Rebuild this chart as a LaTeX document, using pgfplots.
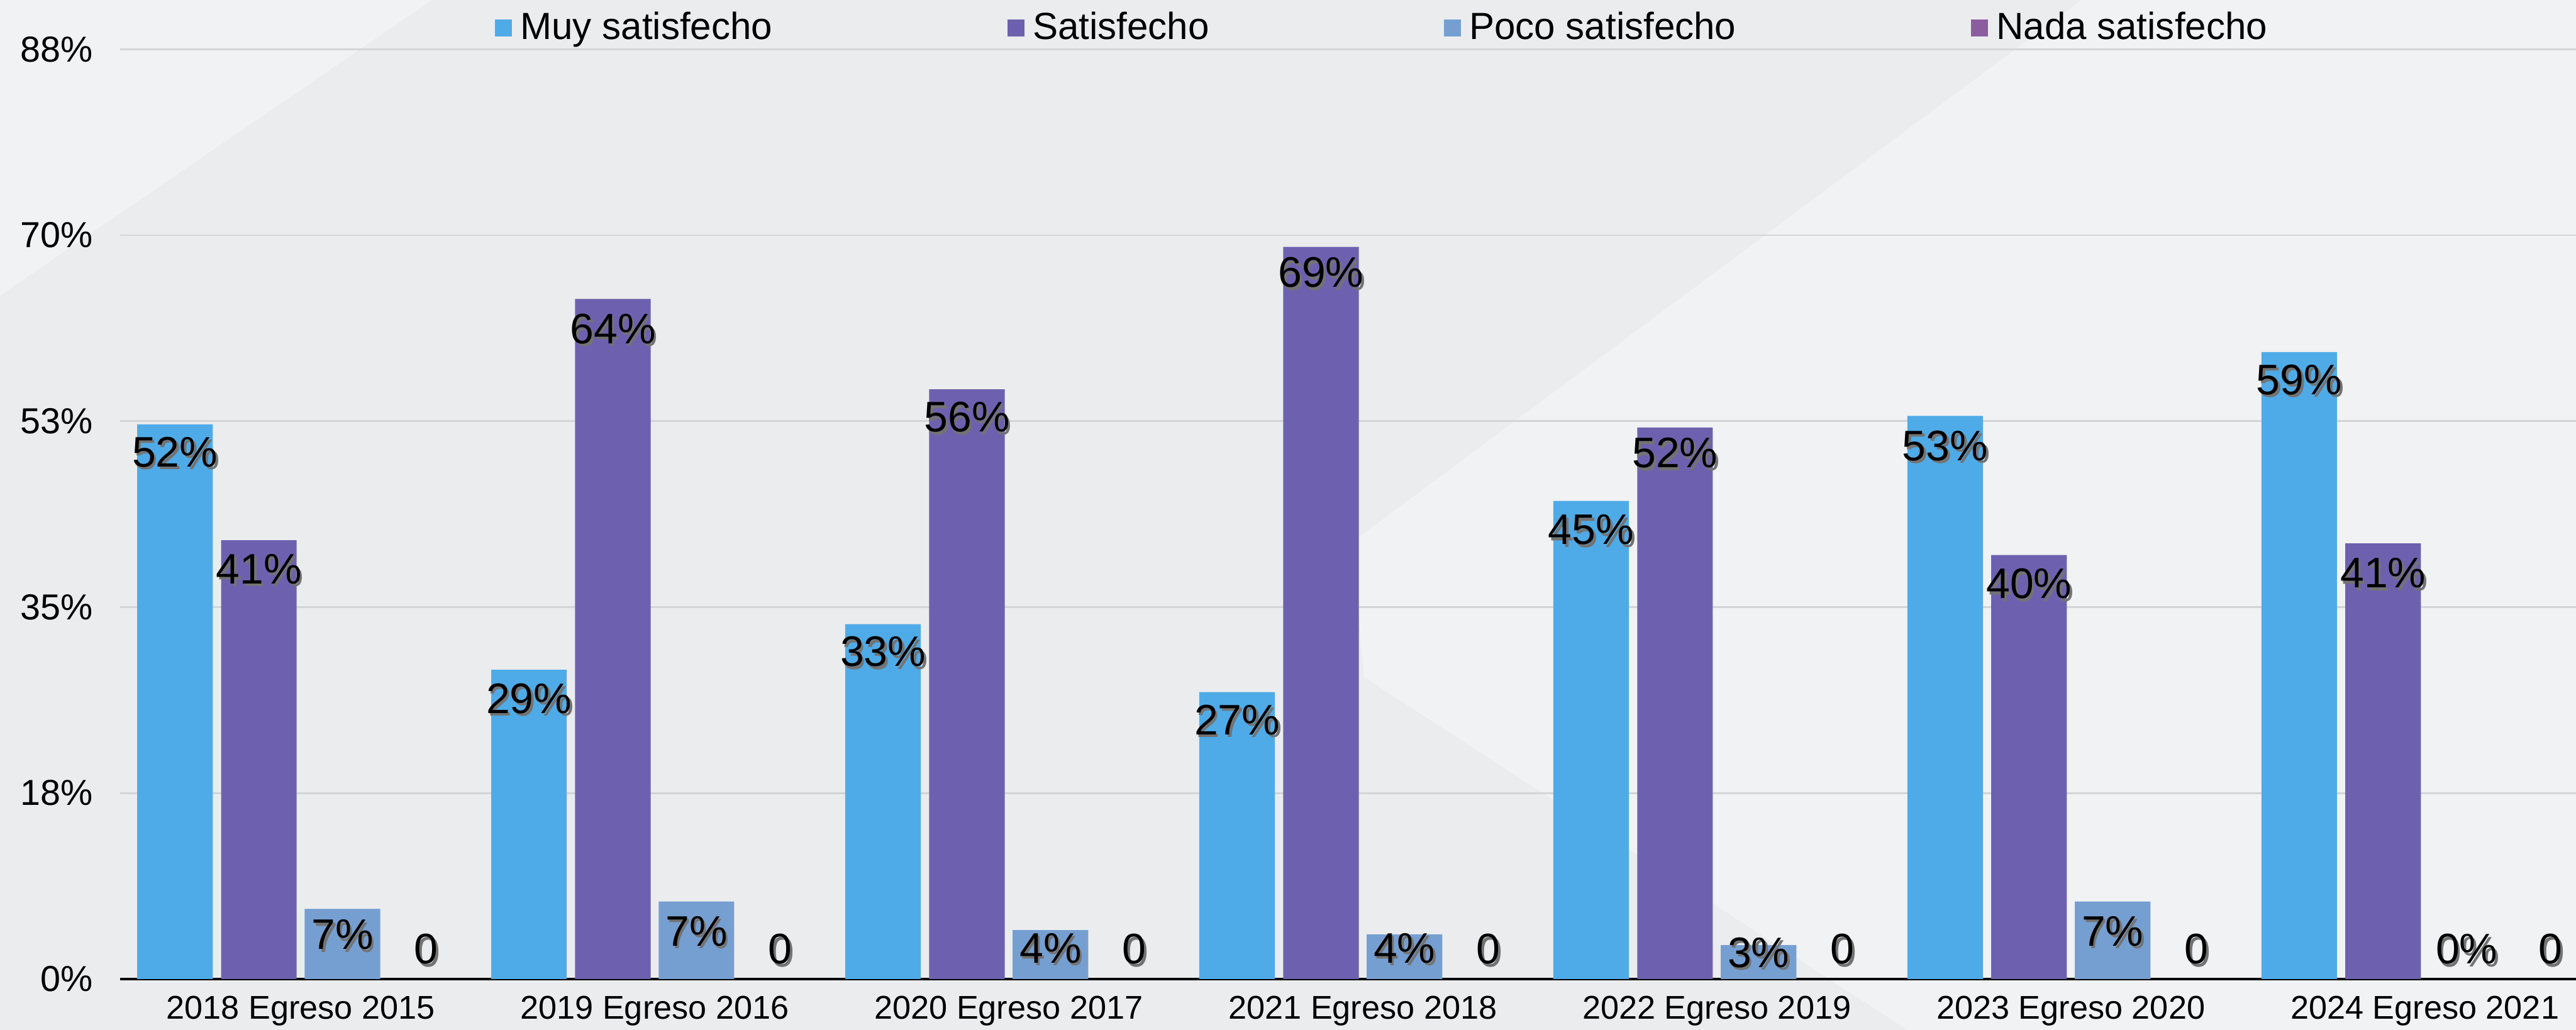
\documentclass[border=0pt]{standalone}
\usepackage{fontspec}
\setmainfont{Liberation Sans}
\usepackage{pgfplots}
\usepackage{pgfplotstable}
\pgfplotsset{compat=1.18}
\definecolor{bgdark}{HTML}{EBECEE}
\definecolor{bglight}{HTML}{F1F2F4}
\definecolor{cmuy}{HTML}{4FABE7}
\definecolor{csat}{HTML}{6D61AF}
\definecolor{cpoco}{HTML}{769FD1}
\definecolor{cnada}{HTML}{8B5D9E}
\definecolor{gridc}{HTML}{D3D4D6}

\pgfplotstableread{
x      y     v
-0.355 49.6  52
0.645  26.4  29
1.645  30.8  33
2.645  24.4  27
3.645  42.3  45
4.645  50.2  53
5.645  56.4  59
-0.118 38.6  41
0.882  61.2  64
1.882  52.9  56
2.882  66.5  69
3.882  49.5  52
4.882  37.2  40
5.882  38.2  41
0.118  4.2   7
1.118  4.5   7
2.118  2.9   4
3.118  2.9   4
4.118  2.5   3
5.118  4.5   7
6.118  2.8   0
}\pctlabels

\pgfplotstableread{
x      y    v
0.355  2.8  0
1.355  2.8  0
2.355  2.8  0
3.355  2.8  0
4.355  2.8  0
5.355  2.8  0
6.355  2.8  0
}\zerolabels

\begin{document}
\begin{tikzpicture}
\useasboundingbox (0,0) rectangle (784pt,313.5pt);
\fill[bgdark] (0,0) rectangle (784pt,313.5pt);
\fill[bglight] (0pt,313.5pt) -- (131.5pt,313.5pt) -- (0pt,223.5pt) -- cycle;
\fill[bglight] (633.5pt,313.5pt) -- (784pt,313.5pt) -- (784pt,0pt) -- (580.5pt,0pt) -- (415pt,107.5pt) -- (411.5pt,148.5pt) -- cycle;
\begin{axis}[
  at={(36.5pt,15.5pt)}, anchor=south west,
  scale only axis, width=747.5pt, height=283pt,
  /pgf/number format/assume math mode=true,
  xmin=-0.5104, xmax=6.427, ymin=0, ymax=87.5,
  axis lines*=left,
  y axis line style={draw=none},
  x axis line style={black, line width=0.7pt},
  xtick={0,1,2,3,4,5,6},
  xticklabels={2018 Egreso 2015,2019 Egreso 2016,2020 Egreso 2017,2021 Egreso 2018,2022 Egreso 2019,2023 Egreso 2020,2024 Egreso 2021},
  ytick={0,17.5,35,52.5,70,87.5},
  yticklabels={0\%,18\%,35\%,53\%,70\%,88\%},
  major tick length=0pt,
  ymajorgrids, grid style={gridc, line width=0.5pt},
  xticklabel style={font=\fontsize{10}{12}\selectfont, yshift=-1.7pt},
  yticklabel style={font=\fontsize{11}{13}\selectfont, xshift=-4.7pt},
  legend columns=4,
  legend style={at={(0.1525,1)}, anchor=west, yshift=6.5pt, draw=none, fill=none, inner sep=0pt,
     font=\fontsize{11.5}{13}\selectfont,
     /tikz/every odd column/.style={column sep=2.5pt},
     /tikz/every even column/.style={column sep=71.5pt},
     nodes={inner sep=0pt}},
  clip=false,
]
\addplot[ybar, bar width=0.2135, bar shift=-0.355, fill=cmuy, draw=none,
  legend image code/.code={\fill[cmuy] (0pt,-2.6pt) rectangle (5.2pt,2.6pt);}]
  coordinates {(0,52.2) (1,29.1) (2,33.4) (3,27.0) (4,45.0) (5,53.0) (6,59.0)};
\addlegendentry{Muy satisfecho}
\addplot[ybar, bar width=0.2135, bar shift=-0.118, fill=csat, draw=none,
  legend image code/.code={\fill[csat] (0pt,-2.6pt) rectangle (5.2pt,2.6pt);}]
  coordinates {(0,41.3) (1,64.0) (2,55.5) (3,68.9) (4,51.9) (5,39.9) (6,41.0)};
\addlegendentry{Satisfecho}
\addplot[ybar, bar width=0.2135, bar shift=0.118, fill=cpoco, draw=none,
  legend image code/.code={\fill[cpoco] (0pt,-2.6pt) rectangle (5.2pt,2.6pt);}]
  coordinates {(0,6.6) (1,7.3) (2,4.6) (3,4.2) (4,3.2) (5,7.3) (6,0)};
\addlegendentry{Poco satisfecho}
\addplot[ybar, bar width=0.2135, bar shift=0.355, fill=cnada, draw=none,
  legend image code/.code={\fill[cnada] (0pt,-2.6pt) rectangle (5.2pt,2.6pt);}]
  coordinates {(0,0) (1,0) (2,0) (3,0) (4,0) (5,0) (6,0)};
\addlegendentry{Nada satisfecho}

% shadows
\addplot[forget plot, only marks, mark=none, color=black!55, point meta=explicit,
  nodes near coords={\pgfmathprintnumber[fixed,precision=0]{\pgfplotspointmeta}\%},
  every node near coord/.append style={anchor=center, xshift=0.7pt, yshift=-0.9pt, font=\fontsize{13}{15}\selectfont}]
  table[x=x, y=y, meta=v] {\pctlabels};
\addplot[forget plot, only marks, mark=none, color=black!55, point meta=explicit,
  nodes near coords={0},
  every node near coord/.append style={anchor=center, xshift=0.7pt, yshift=-0.9pt, font=\fontsize{13}{15}\selectfont}]
  table[x=x, y=y, meta=v] {\zerolabels};
% labels
\addplot[forget plot, only marks, mark=none, color=black, point meta=explicit,
  nodes near coords={\pgfmathprintnumber[fixed,precision=0]{\pgfplotspointmeta}\%},
  every node near coord/.append style={anchor=center, font=\fontsize{13}{15}\selectfont}]
  table[x=x, y=y, meta=v] {\pctlabels};
\addplot[forget plot, only marks, mark=none, color=black, point meta=explicit,
  nodes near coords={0},
  every node near coord/.append style={anchor=center, font=\fontsize{13}{15}\selectfont}]
  table[x=x, y=y, meta=v] {\zerolabels};
\end{axis}
\end{tikzpicture}
\end{document}
